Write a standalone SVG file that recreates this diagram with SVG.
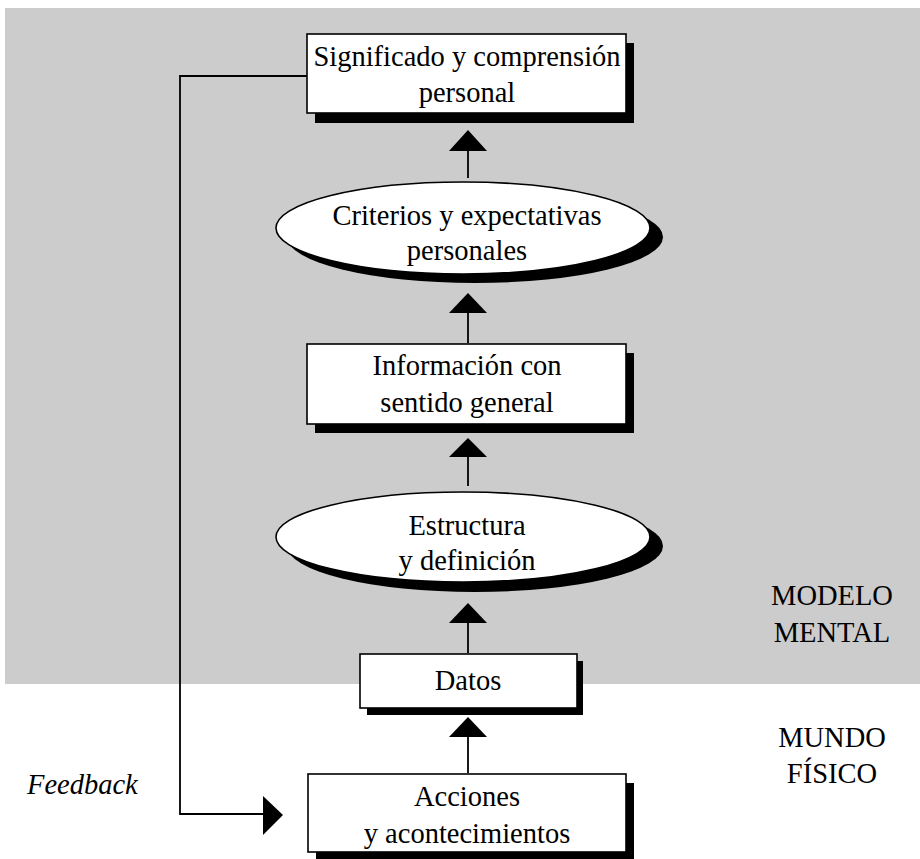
<svg xmlns="http://www.w3.org/2000/svg" width="920" height="859" viewBox="0 0 920 859">
<style>
.t{font-family:"Liberation Serif","Times New Roman",serif;font-size:28.5px;fill:#000;text-anchor:middle}
.box{fill:#fff;stroke:#000;stroke-width:1.6}
.sh{fill:#000}
.ln{stroke:#000;stroke-width:1.8;fill:none}
.ah{fill:#000}
</style>
<rect x="5" y="8" width="915" height="676" fill="#cccccc"/>
<g id="connectors">
<polyline class="ln" points="307,76 180,76 180,814 264,814"/>
<polygon class="ah" points="263,796 283,815 263,835"/>
<line class="ln" x1="468" y1="151" x2="468" y2="178"/>
<polygon class="ah" points="449,151 468,130 487,151"/>
<line class="ln" x1="468" y1="313" x2="468" y2="343"/>
<polygon class="ah" points="449,313 468,293 487,313"/>
<line class="ln" x1="468" y1="457" x2="468" y2="486"/>
<polygon class="ah" points="449,457 468,438 487,457"/>
<line class="ln" x1="468" y1="623" x2="468" y2="653"/>
<polygon class="ah" points="449,623 468,603 487,623"/>
<line class="ln" x1="468" y1="737" x2="468" y2="773"/>
<polygon class="ah" points="449,737 468,717 487,737"/>
</g>
<g id="n-significado">
<rect class="sh" x="315" y="43" width="319" height="80"/>
<rect class="box" x="307" y="34" width="319" height="79"/>
<text class="t" x="467" y="66">Significado y comprensión</text>
<text class="t" x="467" y="102">personal</text>
</g>
<g id="n-criterios">
<ellipse class="sh" cx="475" cy="237" rx="188" ry="46"/>
<ellipse class="box" cx="463" cy="228" rx="187" ry="46" stroke-width="2"/>
<text class="t" x="467" y="225">Criterios y expectativas</text>
<text class="t" x="467" y="260">personales</text>
</g>
<g id="n-informacion">
<rect class="sh" x="315" y="353" width="319" height="80"/>
<rect class="box" x="307" y="344" width="319" height="80"/>
<text class="t" x="467" y="375">Información con</text>
<text class="t" x="467" y="412">sentido general</text>
</g>
<g id="n-estructura">
<ellipse class="sh" cx="475" cy="546" rx="188" ry="46"/>
<ellipse class="box" cx="463" cy="537" rx="187" ry="45" stroke-width="2"/>
<text class="t" x="467" y="535">Estructura</text>
<text class="t" x="467" y="570">y definición</text>
</g>
<g id="n-datos">
<rect class="sh" x="367" y="661" width="216" height="54"/>
<rect class="box" x="360" y="654" width="217" height="54"/>
<text class="t" x="468" y="690">Datos</text>
</g>
<g id="n-acciones">
<rect class="sh" x="316" y="783" width="318" height="80"/>
<rect class="box" x="308" y="774" width="318" height="78"/>
<text class="t" x="467" y="806">Acciones</text>
<text class="t" x="467" y="843">y acontecimientos</text>
</g>
<g id="labels">
<text class="t" x="832" y="605">MODELO</text>
<text class="t" x="832" y="642">MENTAL</text>
<text class="t" x="832" y="747">MUNDO</text>
<text class="t" x="832" y="783">FÍSICO</text>
<text class="t" x="27" y="794" style="text-anchor:start;font-style:italic">Feedback</text>
</g>
</svg>
